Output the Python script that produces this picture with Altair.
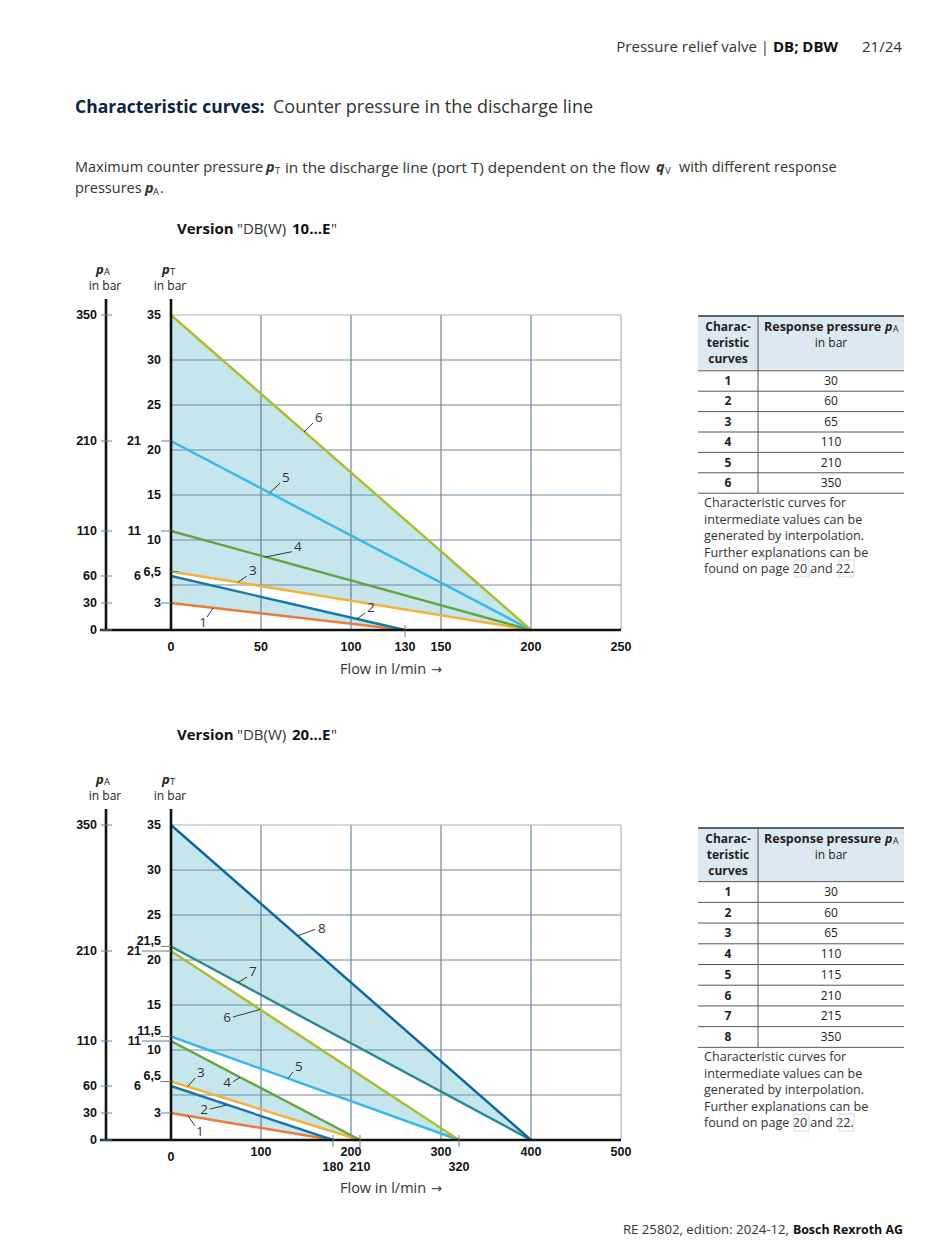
import altair as alt
import pandas as pd

# ---------------- data: version DB(W) 10...E ----------------
v10_curve = [1, 2, 3, 4, 5, 6]
v10_pT0 = [3, 6, 6.5, 11, 21, 35]            # pT at zero flow (bar)
v10_qend = [130, 130, 200, 200, 200, 200]    # flow at which pT reaches 0 (l/min)
v10_pA = [30, 60, 65, 110, 210, 350]         # response pressure pA (bar)
v10_band_lo = [1, 3]
v10_band_hi = [2, 6]
v10_xmax = 250
v10_xgrid = [50, 100, 150, 200]
v10_ygrid = [5, 10, 15, 20, 25, 30]
v10_xlab = [0, 50, 100, 130, 150, 200, 250]
v10_xlab_raised = []
v10_xlab_low = []
v10_xticks = [130]
v10_pT_v = [35, 30, 25, 20, 15, 10, 6.5, 3]
v10_pT_t = ["35", "30", "25", "20", "15", "10", "6,5", "3"]
v10_pTr_v = []
v10_pTr_t = []
v10_pTs_v = [21, 11, 6]
v10_pTs_t = ["21", "11", "6"]
v10_tick_short = [21, 11, 3]
v10_tick_right = [6.5]
v10_tick_long = []
v10_ann_lab = ["6", "5", "4", "3", "2", "1"]
v10_ann_f0 = [73.9, 55.0, 52.2, 37.2, 103.3, 23.3]
v10_ann_p0 = [22.0, 15.3, 8.1, 5.3, 1.22, 2.4]
v10_ann_f1 = [78.9, 60.6, 67.2, 42.2, 107.8, 20.0]
v10_ann_p1 = [23.0, 16.3, 8.7, 6.0, 1.9, 1.44]
v10_ann_pos = ["ur", "ur", "ur", "ur", "ur", "dl"]

# ---------------- data: version DB(W) 20...E ----------------
v20_curve = [1, 2, 3, 4, 5, 6, 7, 8]
v20_pT0 = [3, 6, 6.5, 11, 11.5, 21, 21.5, 35]
v20_qend = [180, 180, 210, 210, 320, 320, 400, 400]
v20_pA = [30, 60, 65, 110, 115, 210, 215, 350]
v20_band_lo = [1, 3, 5, 7]
v20_band_hi = [2, 4, 6, 8]
v20_xmax = 500
v20_xgrid = [100, 200, 300, 400]
v20_ygrid = [5, 10, 15, 20, 25, 30]
v20_xlab = [0]
v20_xlab_raised = [100, 200, 300, 400, 500]
v20_xlab_low = [180, 210, 320]
v20_xticks = [180, 210, 320]
v20_pT_v = [35, 30, 25, 20, 15, 10, 3]
v20_pT_t = ["35", "30", "25", "20", "15", "10", "3"]
v20_pTr_v = [21.5, 11.5, 6.5]
v20_pTr_t = ["21,5", "11,5", "6,5"]
v20_pTs_v = [21, 11, 6]
v20_pTs_t = ["21", "11", "6"]
v20_tick_short = [21.5, 11.5, 6.5, 3]
v20_tick_right = []
v20_tick_long = [21, 11]
v20_ann_lab = ["8", "7", "6", "5", "4", "3", "2", "1"]
v20_ann_f0 = [141.1, 74.4, 98.9, 130.0, 76.7, 18.9, 62.2, 18.9]
v20_ann_p0 = [22.7, 17.5, 14.5, 6.83, 6.98, 5.95, 3.9, 2.69]
v20_ann_f1 = [160.0, 84.4, 68.9, 135.6, 68.9, 26.7, 43.3, 26.7]
v20_ann_p1 = [23.4, 18.1, 13.67, 7.56, 6.44, 6.89, 3.44, 1.56]
v20_ann_pos = ["r", "ur", "l", "ur", "l", "ur", "l", "dr"]

pA_ticks = [0, 30, 60, 110, 210, 350]

notes = ["Characteristic curves for", "intermediate values can be",
         "generated by interpolation.", "Further explanations can be",
         "found on page 20 and 22."]

# ---------------- styles ----------------
COL10 = ["#ee7a3a", "#137aa8", "#f8b133", "#62a53d", "#36b8e8", "#a7bf2b"]
COL20 = ["#ee7a3a", "#137aa8", "#f8b133", "#62a53d", "#36b8e8", "#a7bf2b", "#2a8b8c", "#0d65a0"]
SHADE = "#c6e6ee"
GRIDV = "#4f6f8a"
GRIDH = "#6f8aa0"
BORDER = "#a3b4c2"
BODY = "#333333"
NAVY = "#0b2545"
FONT = "Open Sans"
NUMF = "Liberation Sans"

X_L, X_R = 163, 613


def one(text, x, y, size=13, weight="normal", style="normal", color=BODY,
        align="left", font=FONT):
    return alt.Chart(alt.Data(values=[{"a": 1}])).mark_text(
        align=align, baseline="middle", fontSize=size, fontWeight=weight,
        fontStyle=style, color=color, font=font
    ).encode(x=alt.value(x), y=alt.value(y), text=alt.value(text))


def box(x, x2, y, y2):
    return alt.Chart(alt.Data(values=[{"a": 1}])).mark_rect(
        fill="white", fillOpacity=0, stroke="#c9deeb", strokeWidth=1
    ).encode(x=alt.value(x), x2=alt.value(x2), y=alt.value(y), y2=alt.value(y2))


def plot_group(curve, pT0, qend, cols, blo, bhi, xmax, xgrid, ygrid,
               xlab, xlab_r, xlab_l, xticks, pT_v, pT_t, pTr_v, pTr_t,
               pTs_v, pTs_t, t_short, t_right, t_long,
               a_lab, a_f0, a_p0, a_f1, a_p1, a_pos, oy, title_y):
    xs = alt.Scale(domain=[0, xmax], range=[X_L, X_R], nice=False, zero=False)
    ys = alt.Scale(domain=[0, 35], range=[622 + oy, 307 + oy], nice=False, zero=False)

    def X(f):
        return alt.X(f"{f}:Q", scale=xs, axis=None)

    def Y(f):
        return alt.Y(f"{f}:Q", scale=ys, axis=None)

    def XD(v):
        return alt.XDatum(v, scale=xs, axis=None, type="quantitative")

    def YD(v):
        return alt.YDatum(v, scale=ys, axis=None, type="quantitative")

    rows = []
    for c, p, q in zip(curve, pT0, qend):
        rows.append({"curve": c, "f": 0, "p": p})
        rows.append({"curve": c, "f": q, "p": 0})
    cdf = pd.DataFrame(rows)

    arows = []
    for k, (lo, hi) in enumerate(zip(blo, bhi)):
        il, ih = curve.index(lo), curve.index(hi)
        arows.append({"band": k, "f": 0, "hi": pT0[ih], "lo": pT0[il]})
        arows.append({"band": k, "f": qend[ih], "hi": 0, "lo": 0})
    adf = pd.DataFrame(arows)

    layers = []
    layers.append(alt.Chart(adf).mark_area(color=SHADE, opacity=1, interpolate="linear").encode(
        x=X("f"), y=Y("hi"), y2=alt.Y2("lo:Q"), detail="band:N"))
    layers.append(alt.Chart(pd.DataFrame({"f": xgrid})).mark_rule(color=GRIDV, strokeWidth=1).encode(
        x=X("f"), y=YD(0), y2=alt.Y2Datum(35)))
    layers.append(alt.Chart(pd.DataFrame({"p": ygrid})).mark_rule(color=GRIDH, strokeWidth=1).encode(
        y=Y("p"), x=XD(0), x2=alt.X2Datum(xmax)))
    layers.append(alt.Chart(pd.DataFrame({"p": [35]})).mark_rule(color=BORDER, strokeWidth=1.2).encode(
        y=Y("p"), x=XD(0), x2=alt.X2Datum(xmax)))
    layers.append(alt.Chart(pd.DataFrame({"f": [xmax]})).mark_rule(color=BORDER, strokeWidth=1.2).encode(
        x=X("f"), y=YD(0), y2=alt.Y2Datum(35)))
    layers.append(alt.Chart(cdf).mark_line(strokeWidth=2.4).encode(
        x=X("f"), y=Y("p"),
        color=alt.Color("curve:N", scale=alt.Scale(domain=curve, range=cols), legend=None),
        detail="curve:N"))

    # leader lines and curve numbers
    adat = pd.DataFrame({"lab": a_lab, "f0": a_f0, "p0": a_p0, "f1": a_f1, "p1": a_p1, "pos": a_pos})
    layers.append(alt.Chart(adat).mark_rule(color="#222222", strokeWidth=0.9).encode(
        x=X("f0"), y=Y("p0"), x2=alt.X2("f1:Q"), y2=alt.Y2("p1:Q")))
    placements = {"ur": ("left", 2, -5), "r": ("left", 3, 0), "l": ("right", -2, 1),
                  "dl": ("right", 0, 6), "dr": ("left", 1, 6)}
    for key, (al, dx, dy) in placements.items():
        if key in a_pos:
            layers.append(alt.Chart(adat).transform_filter(alt.datum.pos == key).mark_text(
                align=al, baseline="middle", dx=dx, dy=dy, fontSize=13.5, font=FONT, color=BODY).encode(
                x=X("f1"), y=Y("p1"), text="lab:N"))

    # axes
    layers.append(alt.Chart(pd.DataFrame({"p": [0]})).mark_rule(color="#111111", strokeWidth=2.6).encode(
        y=Y("p"), x=alt.value(92), x2=alt.value(X_R)))
    layers.append(alt.Chart(pd.DataFrame({"f": [0]})).mark_rule(color="#111111", strokeWidth=2.6).encode(
        x=X("f"), y=YD(0), y2=alt.value(291 + oy)))
    layers.append(alt.Chart(pd.DataFrame({"f": [0]})).mark_rule(color="#111111", strokeWidth=2.6).encode(
        x=alt.value(98), y=alt.value(291 + oy), y2=alt.value(623 + oy)))

    # pT side ticks
    tick_c = "#6b7f90"
    if t_short:
        layers.append(alt.Chart(pd.DataFrame({"v": t_short})).mark_rule(color=tick_c).encode(
            y=Y("v"), x=alt.value(153), x2=alt.value(163)))
    if t_right:
        layers.append(alt.Chart(pd.DataFrame({"v": t_right})).mark_rule(color=tick_c).encode(
            y=Y("v"), x=alt.value(163), x2=alt.value(171)))
    if t_long:
        layers.append(alt.Chart(pd.DataFrame({"v": t_long})).mark_rule(color=tick_c).encode(
            y=Y("v"), x=alt.value(134), x2=alt.value(163)))

    # pT labels
    lab_kw = dict(baseline="middle", fontSize=12.5, font=NUMF, fontWeight="bold", color="#111111")
    layers.append(alt.Chart(pd.DataFrame({"v": pT_v, "t": pT_t})).mark_text(align="right", **lab_kw).encode(
        x=alt.value(153), y=Y("v"), text="t:N"))
    if pTr_v:
        layers.append(alt.Chart(pd.DataFrame({"v": pTr_v, "t": pTr_t})).mark_text(align="right", dy=-6, **lab_kw).encode(
            x=alt.value(153), y=Y("v"), text="t:N"))
    layers.append(alt.Chart(pd.DataFrame({"v": pTs_v, "t": pTs_t})).mark_text(align="right", **lab_kw).encode(
        x=alt.value(133), y=Y("v"), text="t:N"))

    # x labels and ticks
    layers.append(alt.Chart(pd.DataFrame({"v": xticks})).mark_rule(color=tick_c).encode(
        x=X("v"), y=alt.value(617 + oy), y2=alt.value(629 + oy)))
    layers.append(alt.Chart(pd.DataFrame({"v": xlab})).mark_text(align="center", **lab_kw).encode(
        x=X("v"), y=alt.value(639 + oy), text="v:N"))
    if xlab_r:
        layers.append(alt.Chart(pd.DataFrame({"v": xlab_r})).mark_text(align="center", **lab_kw).encode(
            x=X("v"), y=alt.value(634 + oy), text="v:N"))
    if xlab_l:
        layers.append(alt.Chart(pd.DataFrame({"v": xlab_l})).mark_text(align="center", **lab_kw).encode(
            x=X("v"), y=alt.value(649 + oy), text="v:N"))

    # titles of axes
    layers.append(one("Flow in l/min", 332, title_y, size=14.5))
    layers.append(one("\u2192", 423, title_y, size=13, font="DejaVu Sans"))
    layers.append(one("p", 88, 262 + oy, size=13, weight="bold", style="italic", color="#222222"))
    layers.append(one("A", 96, 264 + oy, size=9.5, color="#222222"))
    layers.append(one("in bar", 97, 278 + oy, size=12, align="center", color="#222222"))
    layers.append(one("p", 154, 262 + oy, size=13, weight="bold", style="italic", color="#222222"))
    layers.append(one("T", 162, 264 + oy, size=9.5, color="#222222"))
    layers.append(one("in bar", 162, 278 + oy, size=12, align="center", color="#222222"))
    return alt.layer(*layers)


def pa_group(oy):
    ys = alt.Scale(domain=[0, 350], range=[622 + oy, 307 + oy], nice=False, zero=False)
    d = pd.DataFrame({"v": pA_ticks})
    ticks = alt.Chart(d).mark_rule(color="#6b7f90").encode(
        y=alt.Y("v:Q", scale=ys, axis=None), x=alt.value(93), x2=alt.value(104))
    labs = alt.Chart(d).mark_text(align="right", baseline="middle", fontSize=12.5, font=NUMF,
                                  fontWeight="bold", color="#111111").encode(
        y=alt.Y("v:Q", scale=ys, axis=None), x=alt.value(89), text="v:N")
    return alt.layer(ticks, labs)


def table_group(ids, vals, top, r1, rn, notes_y0):
    n = len(ids)
    ys = alt.Scale(domain=[1, n], range=[r1, rn], nice=False, zero=False)
    d = pd.DataFrame({"r": list(range(1, n + 1)), "id": [str(i) for i in ids], "val": [str(v) for v in vals]})
    lines = pd.DataFrame({"r": [k + 0.5 for k in range(0, n + 1)]})
    L = []
    L.append(alt.Chart(alt.Data(values=[{"a": 1}])).mark_rect(color="#dde9f1").encode(
        x=alt.value(690), x2=alt.value(896), y=alt.value(top), y2=alt.value(top + 54)))
    L.append(alt.Chart(lines).mark_rule(color="#555555", strokeWidth=1).encode(
        y=alt.Y("r:Q", scale=ys, axis=None), x=alt.value(690), x2=alt.value(896)))
    L.append(alt.Chart(alt.Data(values=[{"a": 1}])).mark_rule(color="#333333", strokeWidth=1.5).encode(
        y=alt.value(top), x=alt.value(690), x2=alt.value(896)))
    L.append(alt.Chart(alt.Data(values=[{"a": 1}])).mark_rule(color="#555555", strokeWidth=1).encode(
        y=alt.YDatum(n + 0.5, scale=ys, axis=None, type="quantitative"), y2=alt.value(top), x=alt.value(750)))
    L.append(alt.Chart(d).mark_text(align="center", baseline="middle", fontSize=12, font=FONT,
                                    fontWeight="bold", color="#222222").encode(
        x=alt.value(720), y=alt.Y("r:Q", scale=ys, axis=None), text="id:N"))
    L.append(alt.Chart(d).mark_text(align="center", baseline="middle", fontSize=12, font=FONT,
                                    color="#222222").encode(
        x=alt.value(823), y=alt.Y("r:Q", scale=ys, axis=None), text="val:N"))
    for i, t in enumerate(["Charac-", "teristic", "curves"]):
        L.append(one(t, 720, top + 11 + 16 * i, size=12, weight="bold", align="center", color="#222222"))
    L.append(one("Response pressure", 756, top + 11, size=12.5, weight="bold", color="#222222"))
    L.append(one("p", 877, top + 11, size=12.5, weight="bold", style="italic", color="#222222"))
    L.append(one("A", 885, top + 13, size=8.5, color="#222222"))
    L.append(one("in bar", 823, top + 27, size=12, align="center", color="#222222"))
    for i, t in enumerate(notes):
        L.append(one(t, 696, notes_y0 + 16.5 * i, size=12.6, color=BODY))
    ly = notes_y0 + 16.5 * 4
    L.append(box(786, 801, ly - 9, ly + 8))
    L.append(box(831, 846, ly - 9, ly + 8))
    return alt.layer(*L)


page = [
    one("Pressure relief valve |", 761, 39, size=15, align="right"),
    one("DB; DBW", 765, 39, size=15, weight="bold", color="#111111"),
    one("21/24", 854, 39, size=15),
    one("Characteristic curves:", 67, 100, size=17.5, weight="bold", color=NAVY),
    one("Counter pressure in the discharge line", 265, 100, size=18),
    one("Maximum counter pressure", 67, 160, size=14.5),
    one("p", 258, 160, size=14.5, weight="bold", style="italic"),
    one("T", 267, 163, size=9.5),
    one("in the discharge line (port T) dependent on the flow", 277, 160, size=15.3),
    one("q", 648, 160, size=14.5, weight="bold", style="italic"),
    one("V", 657, 163, size=9.5),
    one("with different response", 671, 160, size=14.5),
    one("pressures", 67, 181, size=14.5),
    one("p", 137, 181, size=14.5, weight="bold", style="italic"),
    one("A", 145, 184, size=9.5),
    one(".", 152, 181, size=14.5),
    one("RE 25802, edition: 2024-12,", 781, 1222, size=13.2, align="right"),
    one("Bosch Rexroth AG", 895, 1222, size=12.4, weight="bold", align="right", color="#111111"),
]
for oy in (0, 506):
    page += [
        one("Version", 169, 221 + oy, size=15, weight="bold", color="#111111"),
        one("\"DB(W)", 229, 221 + oy, size=15),
        one("10...E" if oy == 0 else "20...E", 284, 221 + oy, size=15, weight="bold", color="#111111"),
        one("\"", 323, 221 + oy, size=15),
    ]

g10 = plot_group(v10_curve, v10_pT0, v10_qend, COL10, v10_band_lo, v10_band_hi, v10_xmax,
                 v10_xgrid, v10_ygrid, v10_xlab, v10_xlab_raised, v10_xlab_low, v10_xticks,
                 v10_pT_v, v10_pT_t, v10_pTr_v, v10_pTr_t, v10_pTs_v, v10_pTs_t,
                 v10_tick_short, v10_tick_right, v10_tick_long,
                 v10_ann_lab, v10_ann_f0, v10_ann_p0, v10_ann_f1, v10_ann_p1, v10_ann_pos, 0, 662)
g20 = plot_group(v20_curve, v20_pT0, v20_qend, COL20, v20_band_lo, v20_band_hi, v20_xmax,
                 v20_xgrid, v20_ygrid, v20_xlab, v20_xlab_raised, v20_xlab_low, v20_xticks,
                 v20_pT_v, v20_pT_t, v20_pTr_v, v20_pTr_t, v20_pTs_v, v20_pTs_t,
                 v20_tick_short, v20_tick_right, v20_tick_long,
                 v20_ann_lab, v20_ann_f0, v20_ann_p0, v20_ann_f1, v20_ann_p1, v20_ann_pos, 510, 1181)
t10 = table_group(v10_curve, v10_pA, 308, 373, 475, 495)
t20 = table_group(v20_curve, v20_pA, 820, 884, 1029, 1049)

chart = alt.layer(g10, pa_group(0), g20, pa_group(510), t10, t20, *page).resolve_scale(
    x="independent", y="independent", color="independent"
).properties(width=929, height=1244, padding=0, autosize="none").configure_view(stroke=None)

chart.save("out.html", embed_options={"renderer": "svg", "actions": False})
